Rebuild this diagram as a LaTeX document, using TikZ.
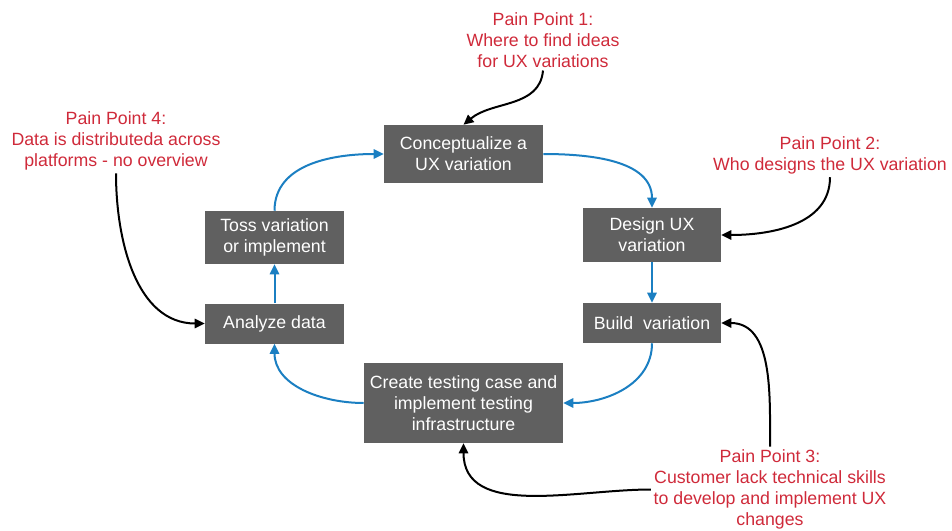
\documentclass[tikz,border=0pt]{standalone}
\usepackage{fontspec}
\setmainfont{Liberation Sans}
\usetikzlibrary{arrows.meta}

\definecolor{boxgray}{HTML}{606060}
\definecolor{loopblue}{HTML}{1B7FC2}
\definecolor{painred}{HTML}{CF2A3A}

\tikzset{
    step box/.style={fill=boxgray, text=white, align=center, inner sep=0pt,
        font=\fontsize{13.3}{15.8}\selectfont},
    pain/.style={text=painred, align=center, inner sep=2pt,
        font=\fontsize{13.3}{15.8}\selectfont},
    loop/.style={draw=loopblue, line width=1.5pt,
        -{Triangle[length=7.5pt,width=7pt]}},
    painarrow/.style={draw=black, line width=1.5pt,
        -{Triangle[length=7.5pt,width=7pt]}}
}

\begin{document}
\begin{tikzpicture}[x=0.75pt,y=-0.75pt]
        \useasboundingbox (0,0) rectangle (952,531);

        % Steps
        \node[step box, minimum width=119.25pt, minimum height=43.5pt] (concept) at (463.5,154) {Conceptualize a\\UX variation};
        \node[step box, minimum width=103.5pt, minimum height=40.5pt] (design) at (652,235) {Design UX\\variation};
        \node[step box, minimum width=103.5pt, minimum height=30pt] (build) at (652,323) {Build\ \ variation};
        \node[step box, minimum width=149.25pt, minimum height=60pt] (create) at (463.5,403) {Create testing case and\\implement testing\\infrastructure};
        \node[step box, minimum width=104.25pt, minimum height=30pt] (analyze) at (274.5,323.5) {Analyze data};
        \node[step box, minimum width=104.25pt, minimum height=39.75pt] (toss) at (274.5,237.5) {Toss variation\\or implement};

        % Pain points
        \node[pain] (pp1) at (543,40) {Pain Point 1:\\Where to find ideas\\for UX variations};
        \node[pain] (pp2) at (830,155.5) {Pain Point 2:\\Who designs the UX variation};
        \node[pain] (pp3) at (770,489.5) {Pain Point 3:\\Customer lack technical skills\\to develop and implement UX\\changes};
        \node[pain] (pp4) at (116,141) {Pain Point 4:\\Data is distributeda across\\platforms - no overview};

        % Loop
        \draw[loop] (concept.east) to[out=0,in=90] (design.north);
        \draw[loop] (design.south) -- (build.north);
        \draw[loop] (build.south) to[out=-90,in=0] (create.east);
        \draw[loop] (create.west) to[out=180,in=-90] (analyze.south);
        \draw[loop] (analyze.north) -- (toss.south);
        \draw[loop] (toss.north) to[out=90,in=180] (concept.west);

        % Pain point arrows
        \draw[painarrow] (pp1.south) to[out=-95,in=40] (concept.north);
        \draw[painarrow] (pp2.south) to[out=-90,in=0] (design.east);
        \draw[painarrow] (pp3.north) to[out=90,in=0] (build.east);
        \draw[painarrow] (pp3.west) to[out=180,in=-90] (create.south);
        \draw[painarrow] (pp4.south) to[out=-90,in=180] (analyze.west);
    \end{tikzpicture}
\end{document}
